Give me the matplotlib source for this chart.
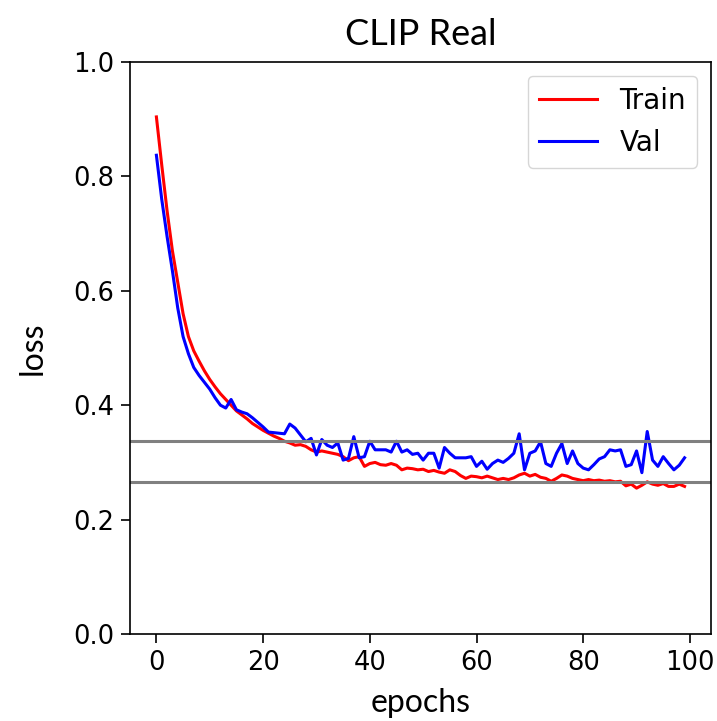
import matplotlib
matplotlib.use("Agg")
import matplotlib.pyplot as plt

# loss per epoch
train_loss = [0.904, 0.820, 0.740, 0.670, 0.615, 0.560, 0.520, 0.495, 0.477, 0.460,
              0.445, 0.432, 0.420, 0.410, 0.400, 0.390, 0.383, 0.376, 0.368, 0.362,
              0.356, 0.351, 0.346, 0.342, 0.337, 0.334, 0.330, 0.331, 0.328, 0.322,
              0.318, 0.320, 0.318, 0.316, 0.314, 0.310, 0.303, 0.308, 0.310, 0.293,
              0.298, 0.300, 0.296, 0.295, 0.298, 0.295, 0.287, 0.290, 0.289, 0.287,
              0.288, 0.284, 0.286, 0.283, 0.281, 0.287, 0.284, 0.277, 0.272, 0.276,
              0.275, 0.273, 0.276, 0.273, 0.270, 0.272, 0.270, 0.273, 0.278, 0.281,
              0.276, 0.279, 0.274, 0.272, 0.267, 0.272, 0.278, 0.276, 0.272, 0.270,
              0.268, 0.270, 0.268, 0.269, 0.267, 0.268, 0.266, 0.267, 0.259, 0.262,
              0.255, 0.260, 0.266, 0.262, 0.260, 0.263, 0.258, 0.258, 0.262, 0.258]

val_loss = [0.837, 0.760, 0.695, 0.635, 0.570, 0.520, 0.490, 0.466, 0.452, 0.440,
            0.428, 0.413, 0.400, 0.395, 0.410, 0.392, 0.388, 0.385, 0.378, 0.370,
            0.362, 0.353, 0.352, 0.351, 0.350, 0.367, 0.360, 0.348, 0.336, 0.342,
            0.313, 0.340, 0.330, 0.326, 0.334, 0.304, 0.307, 0.345, 0.308, 0.310,
            0.337, 0.322, 0.322, 0.322, 0.318, 0.337, 0.318, 0.322, 0.314, 0.316,
            0.304, 0.316, 0.316, 0.290, 0.326, 0.316, 0.308, 0.308, 0.308, 0.310,
            0.293, 0.302, 0.288, 0.298, 0.304, 0.300, 0.307, 0.316, 0.350, 0.287,
            0.316, 0.320, 0.336, 0.298, 0.293, 0.316, 0.333, 0.298, 0.320, 0.298,
            0.290, 0.287, 0.296, 0.306, 0.310, 0.322, 0.320, 0.322, 0.293, 0.296,
            0.320, 0.282, 0.354, 0.304, 0.293, 0.310, 0.298, 0.287, 0.295, 0.308]

ref_lines = [0.337, 0.266]

epochs = list(range(len(train_loss)))

plt.rcParams["font.family"] = "DejaVu Sans"
label_font = "Lato"

fig = plt.figure(figsize=(7.17, 7.21), dpi=100)
ax = fig.add_axes([0.1813, 0.1207, 0.8103, 0.7933])

ax.plot(epochs, train_loss, color="red", linewidth=2.2, label="Train")
ax.plot(epochs, val_loss, color="blue", linewidth=2.2, label="Val")
for y in ref_lines:
    ax.axhline(y, color="gray", linewidth=2.2)

ax.set_ylim(0, 1.0)
ax.set_xticks([0, 20, 40, 60, 80, 100])
ax.set_yticks([0.0, 0.2, 0.4, 0.6, 0.8, 1.0])
ax.tick_params(labelsize=18.5, width=1.2, length=6.5, pad=5)
for s in ax.spines.values():
    s.set_linewidth(1.2)

ax.set_title("CLIP Real", fontsize=26, family=label_font, pad=12)
ax.set_xlabel("epochs", fontsize=23, family=label_font, labelpad=9)
ax.set_ylabel("loss", fontsize=23, family=label_font, labelpad=18)
ax.legend(loc="upper right", fontsize=20, handlelength=2.1)

fig.savefig("out.png", dpi=100)
